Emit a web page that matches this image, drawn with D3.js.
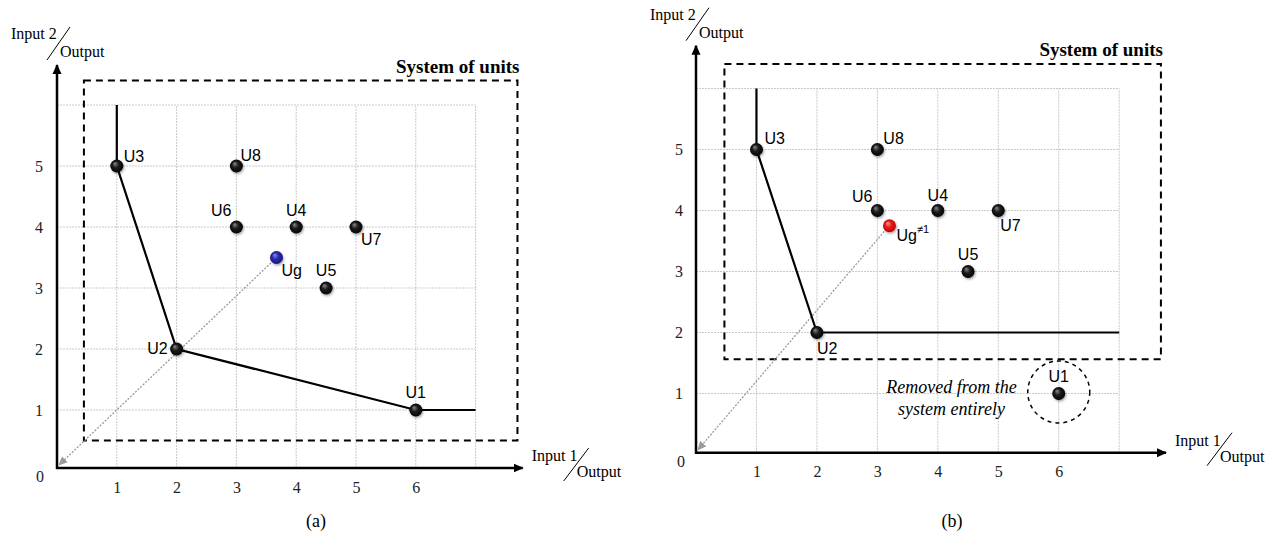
<!DOCTYPE html>
<html>
<head>
<meta charset="utf-8">
<script src="https://cdn.jsdelivr.net/npm/d3@7"></script>
<style>
  body { margin: 0; background: #fff; }
  svg { display: block; }
  .serif { font-family: "Liberation Serif", "Times New Roman", serif; }
  .sans { font-family: "Liberation Sans", Arial, sans-serif; }
</style>
</head>
<body>
<svg id="chart" width="1281" height="539"></svg>
<script>
// ---- data ----
var xTickValues = [1, 2, 3, 4, 5, 6];
var yTickValues = [1, 2, 3, 4, 5];
var unitNames = ["U1", "U2", "U3", "U4", "U5", "U6", "U7", "U8"];
var unitInput1 = [6, 2, 1, 4, 4.5, 3, 5, 3];
var unitInput2 = [1, 2, 5, 4, 3, 4, 4, 5];
// efficient frontier, panel (a) and panel (b)
var frontierAx = [1, 1, 2, 6, 7];
var frontierAy = [6, 5, 2, 1, 1];
var frontierBx = [1, 1, 2, 7];
var frontierBy = [6, 5, 2, 2];
// virtual unit Ug
var ugA = [3.67, 3.5];
var ugB = [3.2, 3.75];
// system box corners (input1, input2 in data units)
var boxA = [0.45, 0.5, 7.7, 6.4];
var boxB = [0.47, 1.56, 7.69, 6.4];

var svg = d3.select("#chart");
var defs = svg.append("defs");

function ballGradient(id, c0, c1, c2) {
    var g = defs.append("radialGradient").attr("id", id)
        .attr("cx", "50%").attr("cy", "50%").attr("r", "55%")
        .attr("fx", "35%").attr("fy", "30%");
    g.append("stop").attr("offset", "0%").attr("stop-color", c0);
    g.append("stop").attr("offset", "45%").attr("stop-color", c1);
    g.append("stop").attr("offset", "100%").attr("stop-color", c2);
}
ballGradient("ballBlack", "#8a8a8a", "#1c1c1c", "#000");
ballGradient("ballBlue", "#8c8cf0", "#2b2bb0", "#16167a");
ballGradient("ballRed", "#ff9a9a", "#ee1a1a", "#b80000");

var sh = defs.append("filter").attr("id", "shadow")
    .attr("x", "-50%").attr("y", "-50%").attr("width", "200%").attr("height", "200%");
sh.append("feDropShadow").attr("dx", 1).attr("dy", 1.5).attr("stdDeviation", 1.2)
    .attr("flood-color", "#000").attr("flood-opacity", 0.35);

defs.append("marker").attr("id", "arrowBlack")
    .attr("viewBox", "0 0 10 10").attr("refX", 9).attr("refY", 5)
    .attr("markerWidth", 10).attr("markerHeight", 10)
    .attr("markerUnits", "userSpaceOnUse").attr("orient", "auto")
    .append("path").attr("d", "M0,0.5 L10,5 L0,9.5 Z").attr("fill", "#000");
defs.append("marker").attr("id", "arrowGray")
    .attr("viewBox", "0 0 10 10").attr("refX", 9).attr("refY", 5)
    .attr("markerWidth", 9).attr("markerHeight", 9)
    .attr("markerUnits", "userSpaceOnUse").attr("orient", "auto")
    .append("path").attr("d", "M0,0.5 L10,5 L0,9.5 Z").attr("fill", "#9a9a9a");

// label placement per unit: [dx, dy, anchor]
var labelPosA = {
    U1: [0, -12, "middle"], U2: [-9, 5, "end"], U3: [7, -4, "start"],
    U4: [0, -11, "middle"], U5: [0, -12, "middle"], U6: [-5, -11, "end"],
    U7: [5, 18, "start"], U8: [4, -5, "start"]
};
var labelPosB = {
    U1: [0, -12, "middle"], U2: [0, 21, "start"], U3: [8, -6, "start"],
    U4: [0, -10, "middle"], U5: [0, -12, "middle"], U6: [-5, -9, "end"],
    U7: [2, 20, "start"], U8: [6, -6, "start"]
};

function drawPanel(p) {
    var g = svg.append("g");
    var x = d3.scaleLinear().domain([0, 7]).range(p.xr);
    var y = d3.scaleLinear().domain([0, 6]).range(p.yr);

    // grid
    g.append("g").selectAll("line").data([1, 2, 3, 4, 5, 6, 7]).enter().append("line")
        .attr("x1", d => x(d)).attr("x2", d => x(d))
        .attr("y1", p.axisY).attr("y2", y(6))
        .attr("stroke", "#c9c9c9").attr("stroke-width", 1).attr("stroke-dasharray", "2,1");
    g.append("g").selectAll("line").data([1, 2, 3, 4, 5, 6]).enter().append("line")
        .attr("y1", d => y(d)).attr("y2", d => y(d))
        .attr("x1", p.axisX).attr("x2", x(7))
        .attr("stroke", "#c9c9c9").attr("stroke-width", 1).attr("stroke-dasharray", "2,1");

    // tick labels via axes
    var ax = g.append("g").attr("transform", "translate(0," + p.axisY + ")")
        .call(d3.axisBottom(x).tickValues(xTickValues).tickFormat(d3.format("d"))
            .tickSize(0).tickPadding(p.xPad));
    var ay = g.append("g").attr("transform", "translate(" + p.axisX + ",0)")
        .call(d3.axisLeft(y).tickValues(yTickValues).tickFormat(d3.format("d"))
            .tickSize(0).tickPadding(p.yPad));
    [ax, ay].forEach(function (a) {
        a.attr("font-family", null).attr("font-size", null);
        a.select(".domain").remove();
        a.selectAll("text").attr("class", "serif")
            .style("font-size", "16px").attr("fill", "#222");
    });
    g.append("text").attr("class", "serif").attr("x", p.zero[0]).attr("y", p.zero[1])
        .attr("text-anchor", "middle").style("font-size", "16px").attr("fill", "#222").text("0");

    // system of units box
    var b = p.box;
    g.append("rect")
        .attr("x", x(b[0])).attr("y", y(b[3]))
        .attr("width", x(b[2]) - x(b[0])).attr("height", y(b[1]) - y(b[3]))
        .attr("fill", "none").attr("stroke", "#000").attr("stroke-width", 2)
        .attr("stroke-dasharray", "7,5");
    g.append("text").attr("class", "serif")
        .attr("x", x(b[2]) + 2).attr("y", y(b[3]) - 8)
        .attr("text-anchor", "end").style("font-size", "19px").style("font-weight", "bold")
        .text("System of units");

    // axes
    g.append("line").attr("x1", p.axisX).attr("y1", p.axisY + 1)
        .attr("x2", p.axisX).attr("y2", p.yTip)
        .attr("stroke", "#000").attr("stroke-width", 2.5).attr("marker-end", "url(#arrowBlack)");
    g.append("line").attr("x1", p.axisX - 1).attr("y1", p.axisY)
        .attr("x2", p.xTip).attr("y2", p.axisY)
        .attr("stroke", "#000").attr("stroke-width", 2.5).attr("marker-end", "url(#arrowBlack)");

    // axis titles
    var tx = p.axisX, ty = p.yTip;
    g.append("text").attr("class", "serif").attr("x", tx - 46).attr("y", ty - 26)
        .style("font-size", "16px").text("Input 2");
    g.append("line").attr("x1", tx - 10).attr("y1", ty - 5).attr("x2", tx + 13).attr("y2", ty - 38)
        .attr("stroke", "#000").attr("stroke-width", 1);
    g.append("text").attr("class", "serif").attr("x", tx + 3).attr("y", ty - 8)
        .style("font-size", "16px").text("Output");
    var rx = p.xTip, ry = p.axisY;
    g.append("text").attr("class", "serif").attr("x", rx + 9).attr("y", ry - 7)
        .style("font-size", "16px").text("Input 1");
    g.append("line").attr("x1", rx + 41).attr("y1", ry + 13).attr("x2", rx + 66).attr("y2", ry - 20)
        .attr("stroke", "#000").attr("stroke-width", 1);
    g.append("text").attr("class", "serif").attr("x", rx + 54).attr("y", ry + 9)
        .style("font-size", "16px").text("Output");

    // dotted projection from Ug to origin
    var ug = p.ug;
    g.append("line").attr("x1", x(ug[0]) - 3).attr("y1", y(ug[1]) + 3)
        .attr("x2", p.axisX + 2).attr("y2", p.axisY - 3)
        .attr("stroke", "#9a9a9a").attr("stroke-width", 1.3).attr("stroke-dasharray", "2,1.5")
        .attr("marker-end", "url(#arrowGray)");

    // frontier
    var pts = p.fx.map(function (d, i) { return [x(d), y(p.fy[i])]; });
    g.append("path").attr("d", d3.line()(pts))
        .attr("fill", "none").attr("stroke", "#000").attr("stroke-width", 2.2);

    // extras (panel b)
    if (p.extra) p.extra(g, x, y);

    // units
    var units = unitNames.map(function (n, i) { return {name: n, x: unitInput1[i], y: unitInput2[i]}; });
    g.append("g").selectAll("circle").data(units).enter().append("circle")
        .attr("cx", d => x(d.x)).attr("cy", d => y(d.y)).attr("r", 6.5)
        .attr("fill", "url(#ballBlack)").attr("filter", "url(#shadow)");
    g.append("g").selectAll("text").data(units).enter().append("text")
        .attr("class", "sans").style("font-size", "16px")
        .attr("x", d => x(d.x) + p.lab[d.name][0])
        .attr("y", d => y(d.y) + p.lab[d.name][1])
        .attr("text-anchor", d => p.lab[d.name][2])
        .text(d => d.name);

    // virtual unit
    g.append("circle").attr("cx", x(ug[0])).attr("cy", y(ug[1])).attr("r", 6.5)
        .attr("fill", p.ugFill).attr("filter", "url(#shadow)");
    var ut = g.append("text").attr("class", "sans").style("font-size", "16px")
        .attr("x", x(ug[0]) + p.ugLab[0]).attr("y", y(ug[1]) + p.ugLab[1]);
    ut.append("tspan").text("Ug");
    if (p.ugSup) {
        ut.append("tspan").attr("dy", -8).style("font-size", "11px").text(p.ugSup);
    }

    // caption
    g.append("text").attr("class", "serif").attr("x", p.caption[0]).attr("y", p.caption[1])
        .attr("text-anchor", "middle").style("font-size", "18px").text(p.caption[2]);
}

drawPanel({
    xr: [57, 475.6], yr: [471, 105], axisX: 57, axisY: 468, yTip: 65, xTip: 522.7,
    xPad: 13.5, yPad: 14, zero: [40, 482], box: boxA,
    fx: frontierAx, fy: frontierAy, lab: labelPosA,
    ug: ugA, ugFill: "url(#ballBlue)", ugLab: [5, 18], ugSup: null,
    caption: [316, 527, "(a)"]
});

drawPanel({
    xr: [696, 1119.2], yr: [454.5, 88.5], axisX: 696, axisY: 452.7, yTip: 45.7, xTip: 1166,
    xPad: 13, yPad: 13, zero: [681, 467], box: boxB,
    fx: frontierBx, fy: frontierBy, lab: labelPosB,
    ug: ugB, ugFill: "url(#ballRed)", ugLab: [7, 15], ugSup: "\u22601",
    caption: [952, 527, "(b)"],
    extra: function (g, x, y) {
        // U1 removed: dashed circle and note
        g.append("circle").attr("cx", x(unitInput1[0])).attr("cy", y(unitInput2[0]) - 1.5).attr("r", 31)
            .attr("fill", "none").attr("stroke", "#000").attr("stroke-width", 1.5)
            .attr("stroke-dasharray", "4,4");
        var t = g.append("text").attr("class", "serif").style("font-size", "18px")
            .style("font-style", "italic").attr("text-anchor", "middle");
        t.append("tspan").attr("x", 951.5).attr("y", 393.3).text("Removed from the");
        t.append("tspan").attr("x", 951.5).attr("y", 415).text("system entirely");
    }
});
</script>
</body>
</html>
